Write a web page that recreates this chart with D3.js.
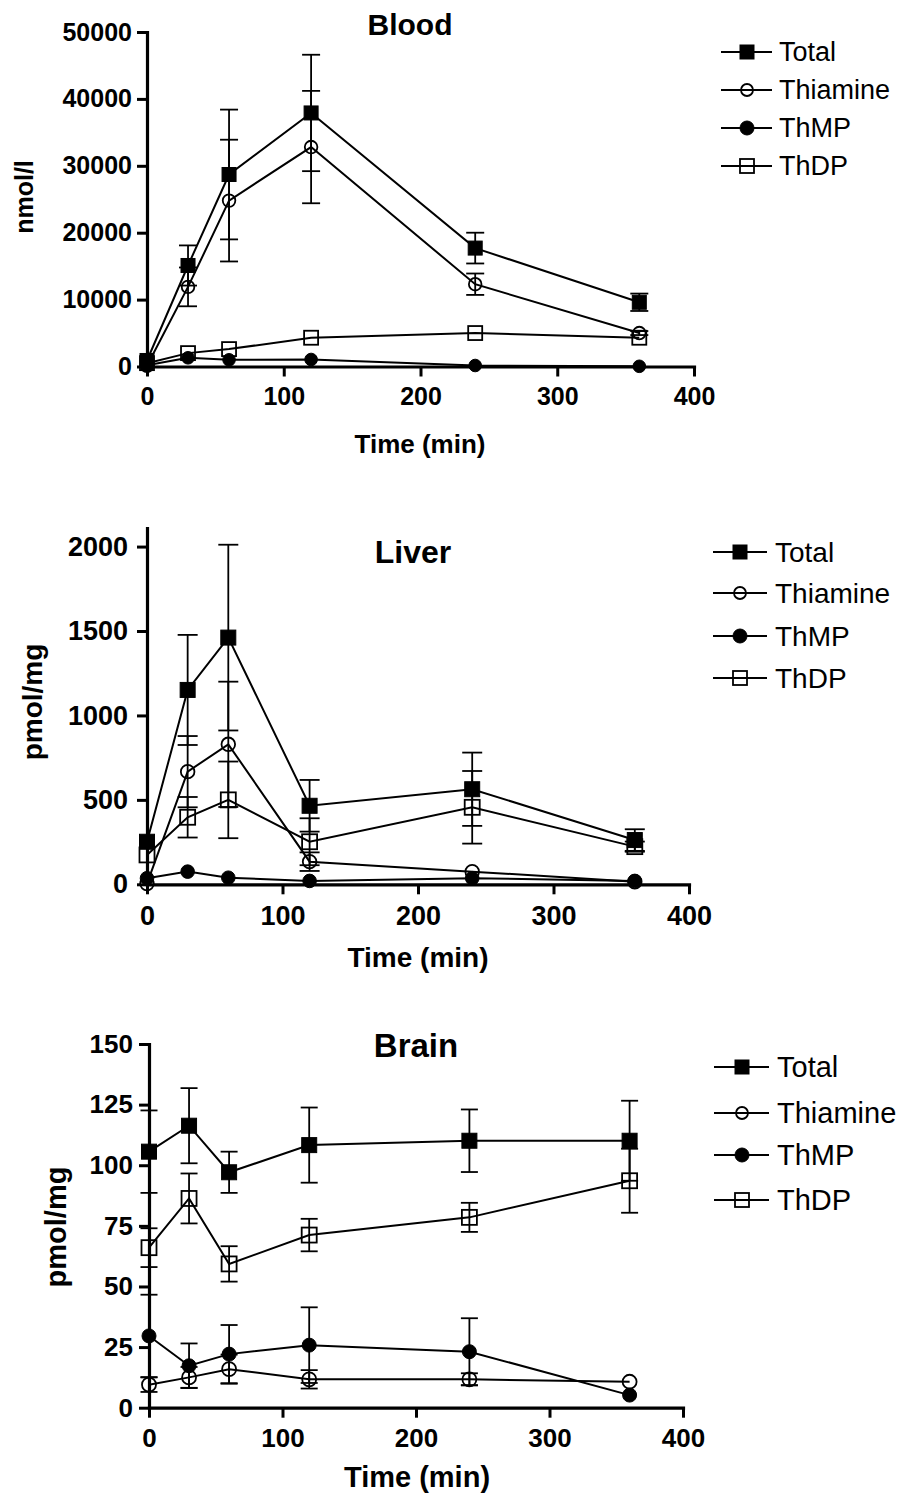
<!DOCTYPE html>
<html>
<head>
<meta charset="utf-8">
<script src="https://cdn.jsdelivr.net/npm/d3@7"></script>
<style>
  body { margin: 0; background: #fff; }
  text { font-family: "Liberation Sans", Arial, sans-serif; fill: #000; }
</style>
</head>
<body>
<div id="chart"></div>
<script>
var times = [0, 30, 60, 120, 240, 360];
var seriesNames = ["Total", "Thiamine", "ThMP", "ThDP"];
var xTicks = [0, 100, 200, 300, 400];

// Blood, nmol/l
var bloodTotal = [900, 15100, 28700, 37900, 17700, 9600];
var bloodTotalSd = [0, 3000, 9700, 8700, 2300, 1300];
var bloodThiamine = [100, 11900, 24800, 32800, 12300, 5000];
var bloodThiamineSd = [0, 2900, 9100, 8400, 1600, 300];
var bloodThMP = [200, 1300, 1000, 1050, 150, 30];
var bloodThMPSd = [0, 0, 0, 0, 0, 0];
var bloodThDP = [500, 2000, 2600, 4300, 5000, 4300];
var bloodThDPSd = [0, 0, 0, 0, 0, 0];
var bloodTicks = [0, 10000, 20000, 30000, 40000, 50000];

// Liver, pmol/mg
var liverTotal = [252, 1151, 1461, 465, 563, 262];
var liverTotalSd = [0, 326, 550, 153, 217, 64];
var liverThiamine = [4, 667, 829, 134, 75, 15];
var liverThiamineSd = [0, 211, 371, 55, 0, 0];
var liverThMP = [36, 75, 39, 20, 36, 20];
var liverThMPSd = [0, 0, 0, 0, 0, 0];
var liverThDP = [174, 397, 500, 252, 456, 223];
var liverThDPSd = [0, 120, 227, 139, 215, 30];
var liverTicks = [0, 500, 1000, 1500, 2000];

// Brain, pmol/mg
var brainTotal = [105.6, 116.3, 97.1, 108.3, 110.1, 110.1];
var brainTotalSd = [17, 15.5, 8.5, 15.5, 12.9, 16.5];
var brainThiamine = [9.5, 12.5, 15.9, 11.7, 11.7, 10.7];
var brainThiamineSd = [3, 4.3, 6, 3.8, 2.5, 0];
var brainThMP = [29.6, 17.3, 22.1, 25.8, 23.1, 5.2];
var brainThMPSd = [17, 9.2, 12, 15.6, 13.8, 0];
var brainThDP = [66, 86.3, 59.3, 71.2, 78.5, 93.6];
var brainThDPSd = [8, 10.3, 7.3, 6.7, 6, 13.2];
var brainTicks = [0, 25, 50, 75, 100, 125, 150];

var symbols = [
  {shape: "square", filled: true},
  {shape: "circle", filled: false},
  {shape: "circle", filled: true},
  {shape: "square", filled: false}
];

var panels = [
  {title: "Blood", unit: "nmol/l", yMax: 50000, yTicks: bloodTicks,
   values: [bloodTotal, bloodThiamine, bloodThMP, bloodThDP],
   sds: [bloodTotalSd, bloodThiamineSd, bloodThMPSd, bloodThDPSd],
   x0: 147, x1: 694, y0: 366.5, yTop: 32, tickFont: 25, tickPadX: 11, tickPadY: 5,
   title_: {x: 410, y: 35, size: 30}, xLab: {x: 420, y: 453, size: 26}, yLab: {x: 33, y: 197, size: 25},
   legend: {x0: 721, x1: 772, xm: 747, xt: 779, ys: [52, 90, 128, 166], size: 27},
   sq: 14, r: 6.3, cap: 9},
  {title: "Liver", unit: "pmol/mg", yMax: 2110, yTicks: liverTicks,
   values: [liverTotal, liverThiamine, liverThMP, liverThDP],
   sds: [liverTotalSd, liverThiamineSd, liverThMPSd, liverThDPSd],
   x0: 147, x1: 689, y0: 884.3, yTop: 528, tickFont: 27, tickPadX: 12, tickPadY: 9,
   title_: {x: 413, y: 563, size: 32}, xLab: {x: 418, y: 967, size: 28}, yLab: {x: 42, y: 702, size: 28},
   legend: {x0: 713, x1: 767, xm: 740, xt: 775, ys: [552, 593, 636, 678], size: 28},
   sq: 15, r: 6.8, cap: 10},
  {title: "Brain", unit: "pmol/mg", yMax: 150, yTicks: brainTicks,
   values: [brainTotal, brainThiamine, brainThMP, brainThDP],
   sds: [brainTotalSd, brainThiamineSd, brainThMPSd, brainThDPSd],
   x0: 149, x1: 683, y0: 1407.7, yTop: 1044, tickFont: 26, tickPadX: 11, tickPadY: 6,
   title_: {x: 416, y: 1057, size: 33}, xLab: {x: 417, y: 1487, size: 29}, yLab: {x: 66, y: 1227, size: 29},
   legend: {x0: 714, x1: 769, xm: 742, xt: 777, ys: [1067, 1113, 1155, 1200], size: 29},
   sq: 15, r: 7, cap: 8.5}
];

var svg = d3.select("#chart").append("svg")
  .attr("width", 898).attr("height", 1495);

var drawSymbol = (g, sym, cx, cy, p, legendSize) => {
  var s = legendSize ? legendSize : p.sq;
  var r = legendSize ? legendSize / 2 : p.r;
  var el;
  if (sym.shape == "square") {
    el = g.append("rect").attr("x", cx - s / 2).attr("y", cy - s / 2)
      .attr("width", s).attr("height", s);
  } else {
    el = g.append("circle").attr("cx", cx).attr("cy", cy).attr("r", r);
  }
  el.style("fill", sym.filled ? "#000" : "none")
    .style("stroke", "#000").style("stroke-width", sym.filled ? 1 : 1.8);
};

panels.forEach(p => {
  var x = d3.scaleLinear().domain([0, 400]).range([p.x0, p.x1]);
  var y = d3.scaleLinear().domain([0, p.yMax]).range([p.y0, p.yTop]);
  var g = svg.append("g");

  // error bars
  p.values.forEach((vals, si) => {
    vals.forEach((v, i) => {
      var sd = p.sds[si][i];
      if (!sd) return;
      var cx = x(times[i]);
      var eg = g.append("g").style("stroke", "#000").style("stroke-width", 1.8);
      eg.append("line").attr("x1", cx).attr("x2", cx).attr("y1", y(v - sd)).attr("y2", y(v + sd));
      [v - sd, v + sd].forEach(e => {
        eg.append("line").attr("x1", cx - p.cap).attr("x2", cx + p.cap)
          .attr("y1", y(e)).attr("y2", y(e));
      });
    });
  });

  // lines
  var line = d3.line().x((d, i) => x(times[i])).y(d => y(d));
  p.values.forEach(vals => {
    g.append("path").attr("d", line(vals))
      .style("fill", "none").style("stroke", "#000").style("stroke-width", 2);
  });

  // markers
  p.values.forEach((vals, si) => {
    vals.forEach((v, i) => drawSymbol(g, symbols[si], x(times[i]), y(v), p));
  });

  // axes
  var xAxis = d3.axisBottom(x).tickValues(xTicks).tickSize(10).tickSizeOuter(0)
    .tickPadding(p.tickPadX).tickFormat(d3.format("d"));
  var yAxis = d3.axisLeft(y).tickValues(p.yTicks).tickSize(10).tickSizeOuter(0)
    .tickPadding(p.tickPadY).tickFormat(d3.format("d"));

  [g.append("g").attr("transform", `translate(0,${p.y0})`).call(xAxis),
   g.append("g").attr("transform", `translate(${p.x0},0)`).call(yAxis)].forEach(a => {
    a.select(".domain").style("stroke", "#000").style("stroke-width", 3.2)
      .style("stroke-linecap", "square");
    a.selectAll(".tick line").style("stroke", "#000").style("stroke-width", 3);
    a.selectAll(".tick text").style("font-size", p.tickFont + "px")
      .style("font-weight", "bold").style("fill", "#000")
      .style("font-family", '"Liberation Sans", Arial, sans-serif');
  });

  // titles
  g.append("text").attr("x", p.title_.x).attr("y", p.title_.y)
    .attr("text-anchor", "middle").style("font-size", p.title_.size + "px")
    .style("font-weight", "bold").text(p.title);
  g.append("text").attr("x", p.xLab.x).attr("y", p.xLab.y)
    .attr("text-anchor", "middle").style("font-size", p.xLab.size + "px")
    .style("font-weight", "bold").text("Time (min)");
  g.append("text").attr("transform", `translate(${p.yLab.x},${p.yLab.y}) rotate(-90)`)
    .attr("text-anchor", "middle").style("font-size", p.yLab.size + "px")
    .style("font-weight", "bold").text(p.unit);

  // legend
  var lg = g.append("g");
  seriesNames.forEach((name, si) => {
    var ly = p.legend.ys[si];
    lg.append("line").attr("x1", p.legend.x0).attr("x2", p.legend.x1)
      .attr("y1", ly).attr("y2", ly).style("stroke", "#000").style("stroke-width", 2);
    var sym = symbols[si];
    drawSymbol(lg, sym, p.legend.xm, ly, p, sym.shape == "square" ? 14 : (sym.filled ? 14 : 12));
    lg.append("text").attr("x", p.legend.xt).attr("y", ly)
      .attr("dominant-baseline", "central")
      .style("font-size", p.legend.size + "px").text(name);
  });
});
</script>
</body>
</html>
